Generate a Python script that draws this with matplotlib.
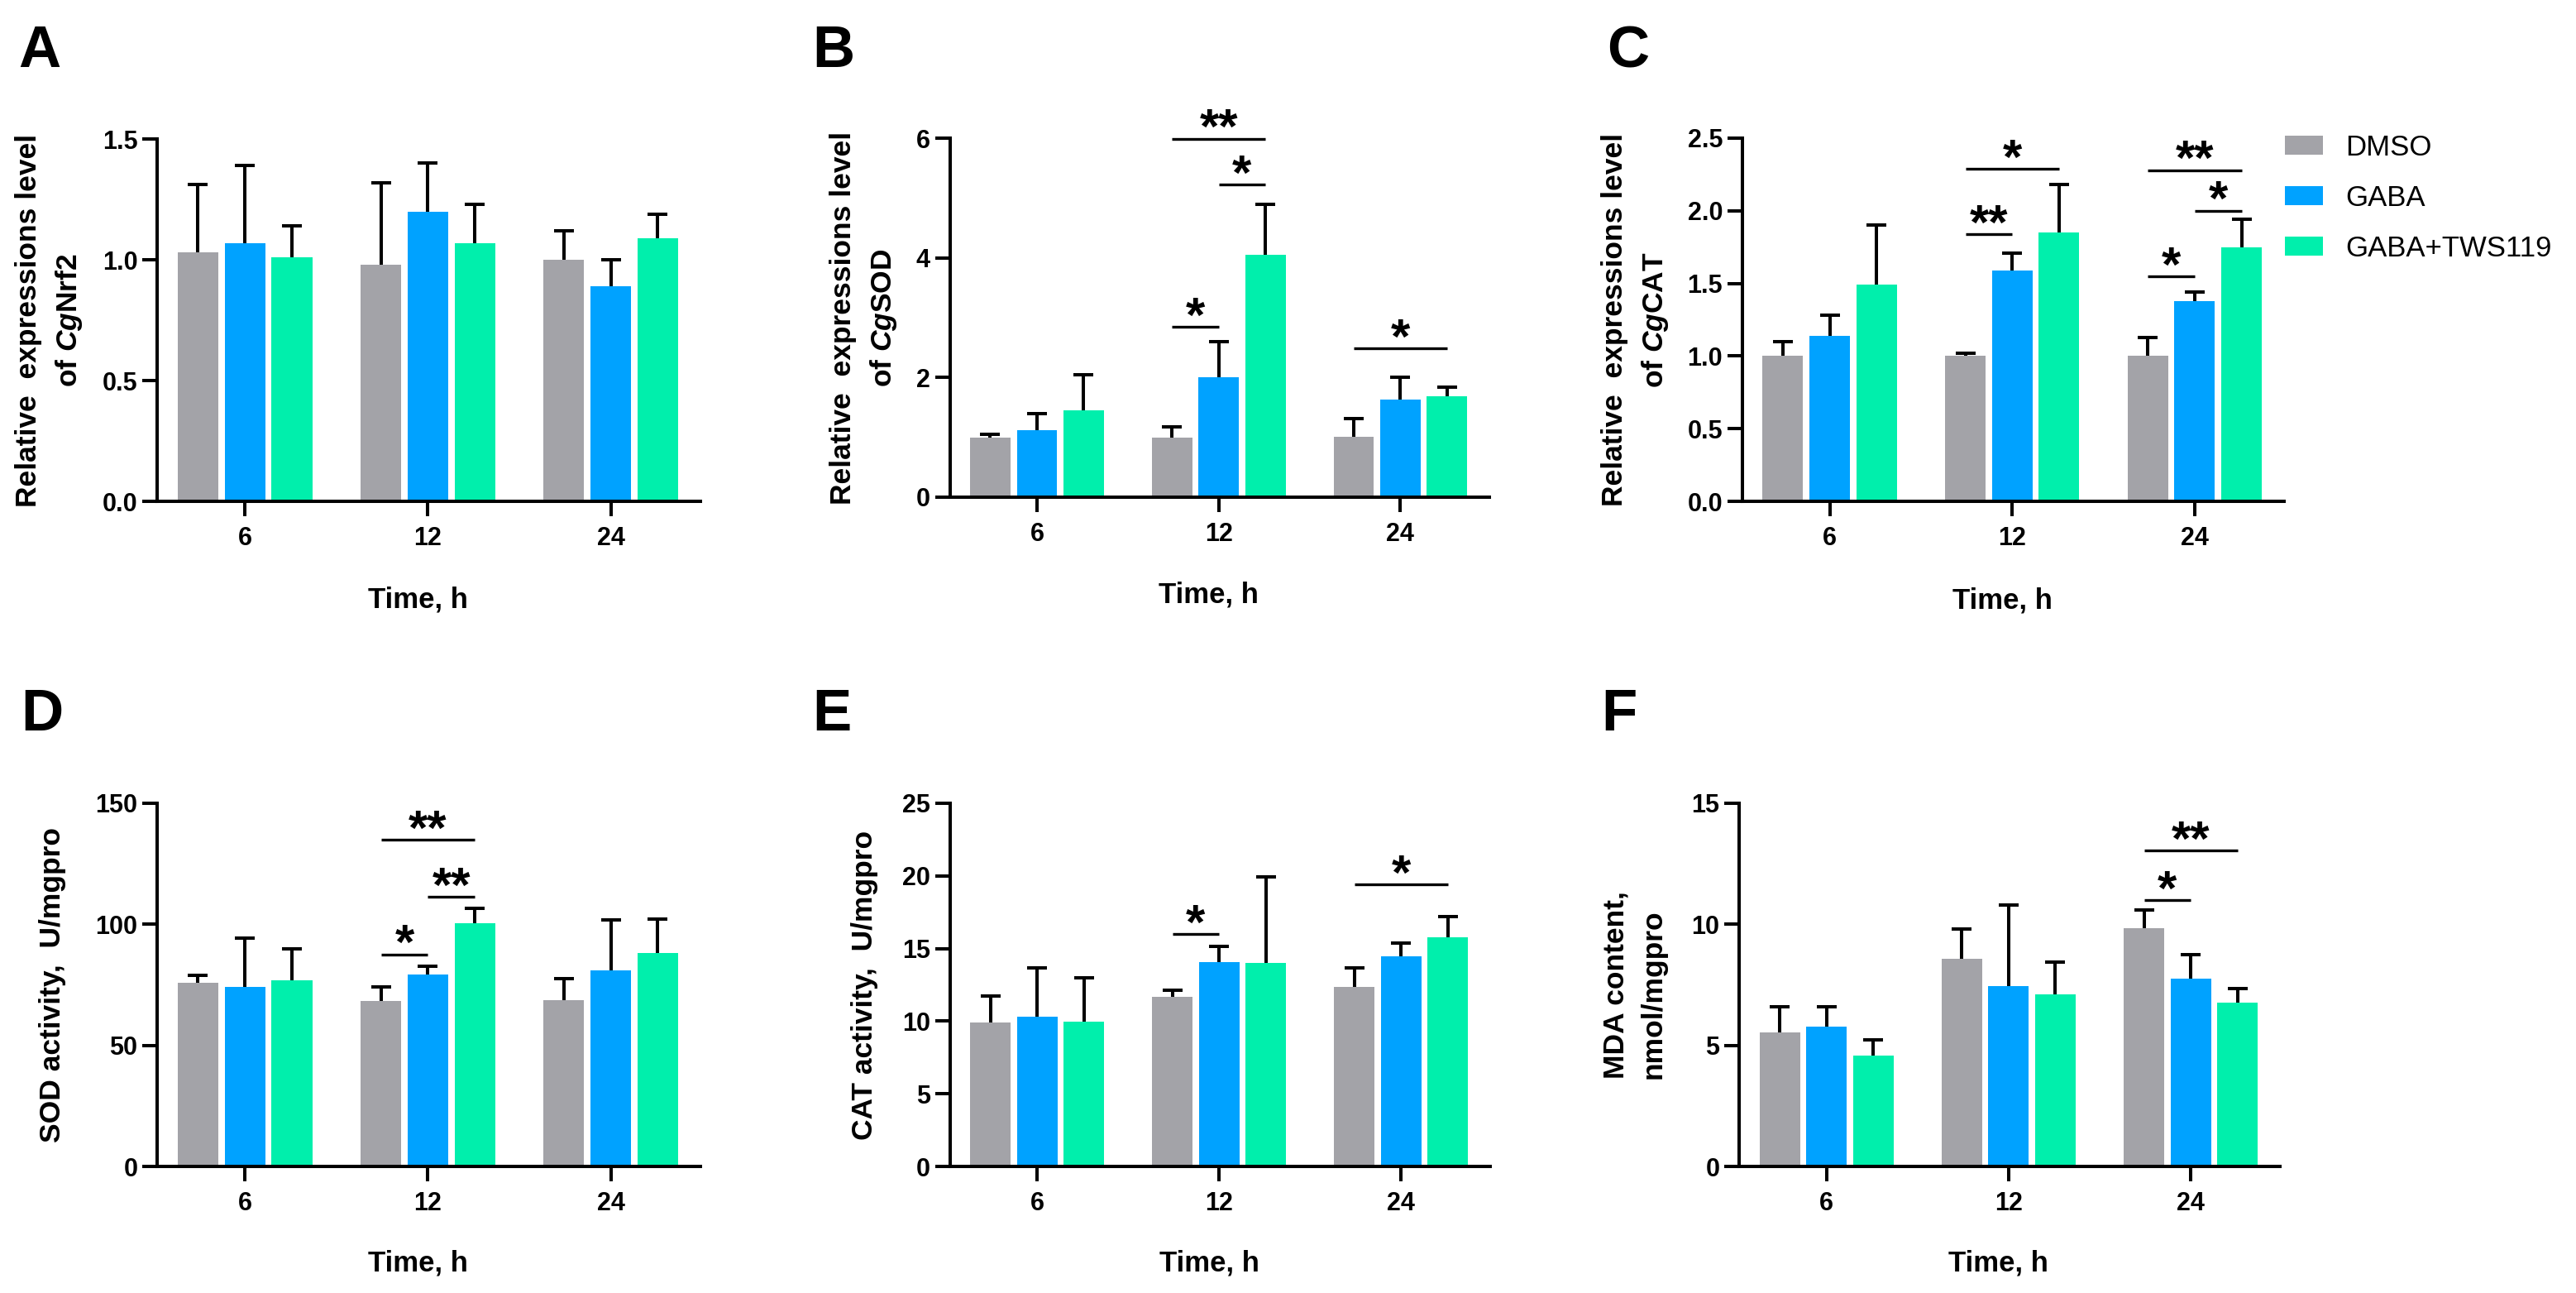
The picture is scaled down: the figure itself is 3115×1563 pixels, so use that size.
import numpy as np
import matplotlib
matplotlib.use("Agg")
import matplotlib.pyplot as plt

plt.rcParams['font.family'] = ['Liberation Sans', 'DejaVu Sans']
plt.rcParams['mathtext.fontset'] = 'custom'
plt.rcParams['mathtext.it'] = 'Liberation Sans:italic:bold'
plt.rcParams['mathtext.rm'] = 'Liberation Sans:bold'
NARROW = ['Liberation Sans Narrow', 'Liberation Sans', 'DejaVu Sans']

times = ['6', '12', '24']
groups = ['DMSO', 'GABA', 'GABA+TWS119']
colors = ['#a3a3a8', '#00a2ff', '#00efac']

# A: CgNrf2 expression (rows = DMSO, GABA, GABA+TWS119; cols = 6, 12, 24 h)
nrf2_mean = [[1.03, 0.98, 1.00], [1.07, 1.20, 0.89], [1.01, 1.07, 1.09]]
nrf2_sd = [[0.28, 0.34, 0.12], [0.32, 0.20, 0.11], [0.13, 0.16, 0.10]]
nrf2_sig = []

# B: CgSOD expression
sod_mean = [[0.99, 1.00, 1.01], [1.12, 2.01, 1.63], [1.45, 4.05, 1.68]]
sod_sd = [[0.06, 0.18, 0.30], [0.28, 0.59, 0.38], [0.59, 0.84, 0.16]]
sod_sig = [(1, 0, 1, 2.85, '*'), (1, 1, 2, 5.22, '*'), (1, 0, 2, 5.99, '**'),
           (2, 0, 2, 2.49, '*')]

# C: CgCAT expression
cat_mean = [[1.00, 1.00, 1.00], [1.14, 1.59, 1.38], [1.49, 1.85, 1.75]]
cat_sd = [[0.10, 0.02, 0.13], [0.14, 0.12, 0.06], [0.41, 0.33, 0.19]]
cat_sig = [(1, 0, 1, 1.84, '**'), (1, 0, 2, 2.29, '*'), (2, 0, 1, 1.55, '*'),
           (2, 1, 2, 2.00, '*'), (2, 0, 2, 2.28, '**')]

# D: SOD activity
sodact_mean = [[75.7, 68.5, 68.7], [74.0, 79.4, 81.1], [77.0, 100.6, 88.1]]
sodact_sd = [[3.4, 5.6, 8.7], [20.3, 3.4, 20.7], [12.8, 6.1, 14.2]]
sodact_sig = [(1, 0, 1, 87.6, '*'), (1, 1, 2, 111.3, '**'), (1, 0, 2, 135.0, '**')]

# E: CAT activity
catact_mean = [[9.89, 11.70, 12.33], [10.31, 14.09, 14.49], [9.94, 14.03, 15.77]]
catact_sd = [[1.84, 0.43, 1.33], [3.33, 1.05, 0.88], [3.04, 5.91, 1.45]]
catact_sig = [(1, 0, 1, 16.0, '*'), (2, 0, 2, 19.4, '*')]

# F: MDA content
mda_mean = [[5.54, 8.59, 9.85], [5.76, 7.45, 7.77], [4.57, 7.09, 6.75]]
mda_sd = [[1.04, 1.23, 0.75], [0.82, 3.36, 0.99], [0.65, 1.35, 0.60]]
mda_sig = [(2, 0, 1, 11.0, '*'), (2, 0, 2, 13.05, '**')]

yticks_A = [0.0, 0.5, 1.0, 1.5]
yticks_B = [0, 2, 4, 6]
yticks_C = [0.0, 0.5, 1.0, 1.5, 2.0, 2.5]
yticks_D = [0, 50, 100, 150]
yticks_E = [0, 5, 10, 15, 20, 25]
yticks_F = [0, 5, 10, 15]

W, H = 3115, 1563
fig = plt.figure(figsize=(W / 100, H / 100), dpi=100)

def px_axes(left, right, top, bottom):
    return fig.add_axes([left / W, 1 - bottom / H, (right - left) / W, (bottom - top) / H])

offs = [-0.257, 0.0, 0.257]
bw = 0.222
LW = 2.9

def panel(ax, means, sds, sig, yticks, ylabels, ylabel, ylab_x, xlab_y, multialign='center'):
    x = np.arange(3)
    handles = []
    for k in range(3):
        b = ax.bar(x + offs[k], means[k], bw, color=colors[k], zorder=2, label=groups[k])
        handles.append(b)
        eb = ax.errorbar(x + offs[k], means[k], yerr=[np.zeros(3), sds[k]], fmt='none',
                         ecolor='black', elinewidth=LW, capsize=8.6, capthick=LW, zorder=3)
        eb[1][0].set_visible(False)  # only the upper cap
    for (t, i, j, y, lab) in sig:
        x1, x2 = t + offs[i], t + offs[j]
        ax.plot([x1, x2], [y, y], color='black', lw=2.4, clip_on=False,
                solid_capstyle='butt', zorder=4)
        ax.annotate(lab, ((x1 + x2) / 2, y), xytext=(0, -4), textcoords='offset points',
                    ha='center', va='baseline', fontsize=43, fontweight='bold',
                    annotation_clip=False)
    ax.set_xlim(-0.48, 2.49)
    ax.set_ylim(yticks[0], yticks[-1])
    ax.set_xticks(x, times, fontfamily=NARROW, fontweight='bold', fontsize=22)
    ax.set_yticks(yticks, ylabels, fontfamily=NARROW, fontweight='bold', fontsize=22)
    ax.tick_params(axis='both', length=13, width=LW, direction='out')
    ax.tick_params(axis='x', pad=8.5)
    ax.tick_params(axis='y', pad=4)
    for s in ['top', 'right']:
        ax.spines[s].set_visible(False)
    for s in ['left', 'bottom']:
        ax.spines[s].set_linewidth(LW)
    ax.set_ylabel(ylabel, fontsize=25.5, fontweight='bold', linespacing=1.5,
                  multialignment=multialign)
    ax.yaxis.set_label_coords(ylab_x, 0.5)
    ax.set_xlabel('Time, h', fontfamily=NARROW, fontweight='bold', fontsize=25)
    ax.xaxis.set_label_coords(0.48, xlab_y)
    return handles

axA = px_axes(190, 847, 168, 606)
panel(axA, nrf2_mean, nrf2_sd, nrf2_sig, yticks_A, ['0.0', '0.5', '1.0', '1.5'],
      'Relative  expressions level\nof $\\mathit{Cg}$Nrf2', -0.134, -0.235)

axB = px_axes(1148.5, 1801, 167, 601)
panel(axB, sod_mean, sod_sd, sod_sig, yticks_B, ['0', '2', '4', '6'],
      'Relative  expressions level\nof $\\mathit{Cg}$SOD', -0.094, -0.235)

axC = px_axes(2106.7, 2762, 167, 606)
hC = panel(axC, cat_mean, cat_sd, cat_sig, yticks_C,
           ['0.0', '0.5', '1.0', '1.5', '2.0', '2.5'],
           'Relative  expressions level\nof $\\mathit{Cg}$CAT', -0.132, -0.235)

axD = px_axes(190, 847, 971, 1410)
panel(axD, sodact_mean, sodact_sd, sodact_sig, yticks_D, ['0', '50', '100', '150'],
      'SOD activity,  U/mgpro', -0.167, -0.23)

axE = px_axes(1148.5, 1802, 971, 1410)
panel(axE, catact_mean, catact_sd, catact_sig, yticks_E,
      ['0', '5', '10', '15', '20', '25'],
      'CAT activity,  U/mgpro', -0.132, -0.23)

axF = px_axes(2103, 2757, 971, 1410)
panel(axF, mda_mean, mda_sd, mda_sig, yticks_F, ['0', '5', '10', '15'],
      'MDA content,\nnmol/mgpro', -0.133, -0.23, multialign='left')

fig.legend(hC, groups, loc='upper left', bbox_to_anchor=(2763 / W, 1 - 162 / H),
           frameon=False, borderpad=0, borderaxespad=0, handlelength=1.33,
           handleheight=0.63, handletextpad=0.78, labelspacing=0.8,
           prop={'family': NARROW, 'size': 25})

for lab, (xp, yp) in zip('ABCDEF', [(22, 30), (982, 30), (1943, 30),
                                    (25, 832), (982, 832), (1936, 832)]):
    fig.text(xp / W, 1 - yp / H, lab, fontsize=51, fontweight='bold', ha='left', va='top')

fig.savefig('out.png', dpi=100)
